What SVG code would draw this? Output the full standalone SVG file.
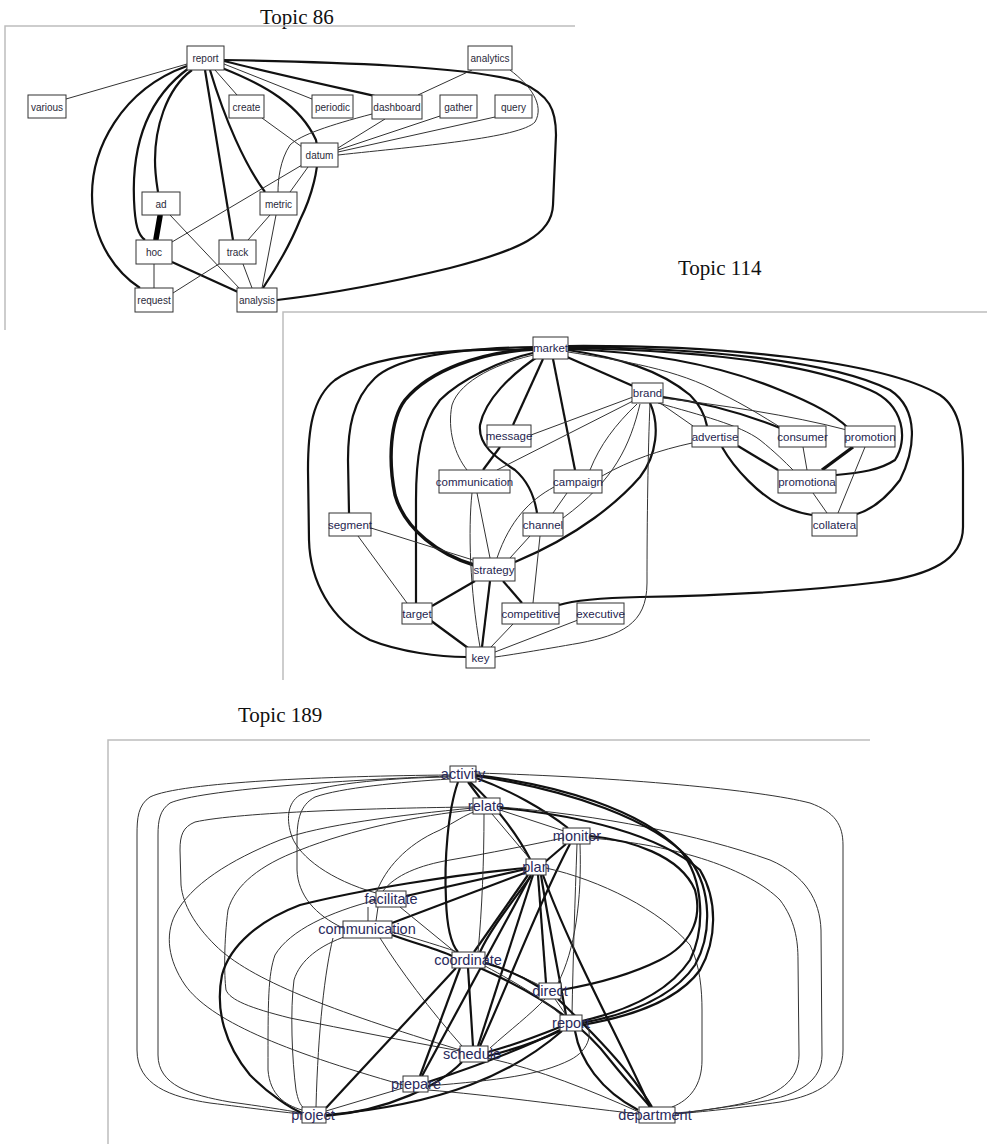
<svg xmlns="http://www.w3.org/2000/svg" width="987" height="1144" viewBox="0 0 987 1144">
<style>
.bg{fill:#fff}
.frame{fill:none;stroke:#bdbdbd;stroke-width:1.5}
.title{font-family:"Liberation Serif",serif;font-size:21px;fill:#111}
.a{fill:none;stroke:#333;stroke-width:1}
.b{fill:none;stroke:#111;stroke-width:2.2}
.c{fill:none;stroke:#111;stroke-width:3.4}
.d{fill:none;stroke:#000;stroke-width:5.5;stroke-linecap:round}
.n rect{fill:#fff;stroke:#333;stroke-width:1}
.n86 text{font-family:"Liberation Sans",Arial,sans-serif;font-size:10px;fill:#2a2a3a;text-anchor:middle}
.n114 text{font-family:"Liberation Sans",Arial,sans-serif;font-size:11.5px;fill:#1f1f50;text-anchor:middle}
.n189 text{font-family:"Liberation Sans",Arial,sans-serif;font-size:14.5px;fill:#2a2a5c;text-anchor:middle}
</style>
<rect class="bg" x="0" y="0" width="987" height="1144"/>

<text class="title" x="260" y="24">Topic 86</text>
<text class="title" x="678" y="275">Topic 114</text>
<text class="title" x="238" y="722">Topic 189</text>
<path class="frame" d="M5,330 L5,26 L575,26"/>
<path class="frame" d="M283,680 L283,312 L987,312"/>
<path class="frame" d="M108,1144 L108,740 L870,740"/>

<g id="edges86">
<path class="a" d="M187,64 L66,99"/>
<path class="b" d="M187,66 C120,90 92,150 92,195 C92,245 120,275 140,288"/>
<path class="b" d="M189,68 C145,100 132,150 134,200 C135,225 138,235 145,240"/>
<path class="b" d="M192,70 C165,90 155,130 155,160 C155,175 157,185 158,192"/>
<path class="b" d="M205,70 L233,240"/>
<path class="a" d="M215,70 L237,95"/>
<path class="b" d="M210,70 C225,120 245,165 265,192"/>
<path class="b" d="M222,68 C265,85 300,105 316,140 C322,165 310,200 300,220 C290,245 275,270 263,288"/>
<path class="a" d="M224,64 L312,99"/>
<path class="b" d="M224,61 C280,75 340,88 375,96"/>
<path class="b" d="M224,60 C330,62 470,66 520,82 C550,95 556,110 556,135 L553,205 C552,235 520,250 450,268 C380,285 320,295 277,300"/>
<path class="a" d="M472,70 L418,95"/>
<path class="a" d="M510,70 C530,85 545,105 535,122 C520,138 420,146 338,155"/>
<path class="a" d="M495,117 L338,152"/>
<path class="a" d="M440,116 L338,150"/>
<path class="a" d="M385,119 L338,148"/>
<path class="a" d="M372,114 C330,125 300,135 290,145 C280,160 278,180 278,192"/>
<path class="a" d="M262,118 L302,147"/>
<path class="a" d="M302,165 L172,242"/>
<path class="a" d="M308,167 L290,192"/>
<path class="a" d="M170,215 L240,289"/>
<path class="d" d="M160,216 L156,239"/>
<path class="b" d="M172,262 L238,292"/>
<path class="a" d="M154,264 L154,288"/>
<path class="a" d="M222,262 L173,293"/>
<path class="a" d="M270,215 L248,240"/>
<path class="a" d="M243,264 L252,288"/>
<path class="a" d="M276,215 L262,288"/>
</g>

<g id="n86-report" class="n n86"><rect x="187" y="46" width="37" height="24"/><text x="205.5" y="62">report</text></g>
<g id="n86-various" class="n n86"><rect x="28" y="95" width="38" height="23"/><text x="47" y="110.5">various</text></g>
<g id="n86-create" class="n n86"><rect x="229" y="95" width="35" height="23"/><text x="246.5" y="110.5">create</text></g>
<g id="n86-periodic" class="n n86"><rect x="312" y="95" width="41" height="23"/><text x="332.5" y="110.5">periodic</text></g>
<g id="n86-dashboard" class="n n86"><rect x="372" y="95" width="50" height="24"/><text x="397" y="110.5">dashboard</text></g>
<g id="n86-gather" class="n n86"><rect x="440" y="95" width="37" height="23"/><text x="458.5" y="110.5">gather</text></g>
<g id="n86-query" class="n n86"><rect x="495" y="95" width="37" height="23"/><text x="513.5" y="110.5">query</text></g>
<g id="n86-analytics" class="n n86"><rect x="468" y="46" width="44" height="24"/><text x="490" y="62">analytics</text></g>
<g id="n86-datum" class="n n86"><rect x="301" y="143" width="37" height="24"/><text x="319.5" y="159">datum</text></g>
<g id="n86-ad" class="n n86"><rect x="142" y="192" width="38" height="23"/><text x="161" y="207.5">ad</text></g>
<g id="n86-metric" class="n n86"><rect x="260" y="192" width="37" height="23"/><text x="278.5" y="207.5">metric</text></g>
<g id="n86-hoc" class="n n86"><rect x="136" y="240" width="36" height="24"/><text x="154" y="256">hoc</text></g>
<g id="n86-track" class="n n86"><rect x="219" y="240" width="37" height="24"/><text x="237.5" y="256">track</text></g>
<g id="n86-request" class="n n86"><rect x="135" y="288" width="38" height="24"/><text x="154" y="304">request</text></g>
<g id="n86-analysis" class="n n86"><rect x="237" y="288" width="40" height="24"/><text x="257" y="304">analysis</text></g>

<g id="edges114">
<path class="b" d="M533,350 C450,348 370,355 335,380 C312,398 308,430 308,470 L309,540 C310,580 330,620 370,640 C400,652 440,657 466,657"/>
<path class="b" d="M535,347 C470,348 400,355 375,378 C352,400 348,430 348,460 L349,513"/>
<path class="c" d="M535,349 C480,352 430,370 405,400 C390,420 388,460 395,495 C405,530 440,555 474,565"/>
<path class="b" d="M537,352 C500,360 460,380 440,400 C420,425 416,460 416,500 L416,603"/>
<path class="b" d="M540,355 C510,375 485,400 480,425 C478,445 495,457 515,470 C530,483 535,500 537,513"/>
<path class="a" d="M538,354 C500,362 460,380 452,405 C447,430 455,455 467,470"/>
<path class="b" d="M543,359 L513,425"/>
<path class="b" d="M553,359 L575,470"/>
<path class="b" d="M567,357 L633,386"/>
<path class="b" d="M650,403 C660,425 657,455 640,477 C620,500 580,535 515,562"/>
<path class="b" d="M568,350 C620,358 660,370 690,395 C700,405 705,415 707,426"/>
<path class="a" d="M568,352 C620,360 680,370 720,393 C745,405 765,418 780,427"/>
<path class="b" d="M568,349 C650,352 720,365 780,390 C810,402 835,415 847,427"/>
<path class="b" d="M568,348 C680,350 800,360 870,390 C905,405 908,440 895,460 C880,470 860,473 836,475"/>
<path class="b" d="M568,347 C700,348 830,360 890,390 C920,410 915,450 900,480 C885,500 870,510 857,514"/>
<path class="b" d="M568,346 C720,345 880,360 940,395 C962,410 963,440 963,470 L963,527 C963,560 930,575 880,582 C790,593 700,596 640,597 C600,598 575,600 559,605"/>
<path class="b" d="M663,397 C700,402 740,412 780,428"/>
<path class="a" d="M663,398 C720,405 790,415 847,430"/>
<path class="a" d="M660,403 L693,426"/>
<path class="a" d="M658,403 C700,415 740,425 760,440 C775,452 785,462 793,470"/>
<path class="a" d="M650,403 C648,450 647,520 647,583 C647,625 620,635 580,643 C540,650 510,655 495,657"/>
<path class="a" d="M633,397 L531,435"/>
<path class="a" d="M633,401 L497,470"/>
<path class="a" d="M637,404 C615,425 600,445 590,470"/>
<path class="a" d="M640,404 C630,445 615,480 563,518"/>
<path class="a" d="M692,443 C660,450 630,460 602,476"/>
<path class="b" d="M738,446 L778,470"/>
<path class="b" d="M722,447 C735,470 760,495 780,505 C795,512 805,514 812,515"/>
<path class="a" d="M803,447 L807,470"/>
<path class="c" d="M853,447 L822,470"/>
<path class="a" d="M865,447 L838,513"/>
<path class="a" d="M813,493 L827,513"/>
<path class="a" d="M477,493 L490,558"/>
<path class="a" d="M472,493 C468,530 470,590 480,647"/>
<path class="b" d="M500,447 L483,470"/>
<path class="a" d="M567,493 L553,513"/>
<path class="a" d="M554,487 C530,500 510,520 497,558"/>
<path class="a" d="M530,536 L510,558"/>
<path class="a" d="M540,536 L533,603"/>
<path class="a" d="M371,528 L473,560"/>
<path class="a" d="M358,536 L407,603"/>
<path class="b" d="M475,581 L432,606"/>
<path class="b" d="M490,581 L482,647"/>
<path class="b" d="M503,581 L522,603"/>
<path class="b" d="M430,620 L468,648"/>
<path class="a" d="M513,624 L491,647"/>
<path class="a" d="M578,620 L495,652"/>
</g>

<g id="n114-market" class="n n114"><rect x="533" y="337" width="35" height="22"/><text x="550.5" y="352">market</text></g>
<g id="n114-brand" class="n n114"><rect x="632" y="383" width="31" height="20"/><text x="647.5" y="397">brand</text></g>
<g id="n114-message" class="n n114"><rect x="487" y="425" width="44" height="22"/><text x="509" y="440">message</text></g>
<g id="n114-advertise" class="n n114"><rect x="692" y="426" width="46" height="21"/><text x="715" y="440.5">advertise</text></g>
<g id="n114-consumer" class="n n114"><rect x="779" y="426" width="47" height="21"/><text x="802.5" y="440.5">consumer</text></g>
<g id="n114-promotion" class="n n114"><rect x="845" y="426" width="50" height="21"/><text x="870" y="440.5">promotion</text></g>
<g id="n114-communication" class="n n114"><rect x="439" y="470" width="71" height="23"/><text x="474.5" y="485.5">communication</text></g>
<g id="n114-campaign" class="n n114"><rect x="554" y="470" width="48" height="23"/><text x="578" y="485.5">campaign</text></g>
<g id="n114-promotiona" class="n n114"><rect x="778" y="470" width="58" height="23"/><text x="807" y="485.5">promotiona</text></g>
<g id="n114-segment" class="n n114"><rect x="329" y="513" width="42" height="23"/><text x="350" y="528.5">segment</text></g>
<g id="n114-channel" class="n n114"><rect x="523" y="513" width="40" height="23"/><text x="543" y="528.5">channel</text></g>
<g id="n114-collatera" class="n n114"><rect x="812" y="513" width="45" height="23"/><text x="834.5" y="528.5">collatera</text></g>
<g id="n114-strategy" class="n n114"><rect x="473" y="558" width="42" height="23"/><text x="494" y="573.5">strategy</text></g>
<g id="n114-target" class="n n114"><rect x="402" y="603" width="30" height="21"/><text x="417" y="617.5">target</text></g>
<g id="n114-competitive" class="n n114"><rect x="502" y="603" width="57" height="21"/><text x="530.5" y="617.5">competitive</text></g>
<g id="n114-executive" class="n n114"><rect x="577" y="603" width="47" height="21"/><text x="600.5" y="617.5">executive</text></g>
<g id="n114-key" class="n n114"><rect x="466" y="647" width="29" height="21"/><text x="480.5" y="661.5">key</text></g>

<g id="edges189">
<path class="a" d="M450,775 C330,776 180,782 150,797 C138,805 137,818 137,835 L137,1050 C137,1085 170,1097 210,1103 C250,1108 280,1112 302,1114"/>
<path class="a" d="M450,776 C340,780 200,790 170,803 C160,810 158,820 158,835 L158,1055 C158,1085 190,1095 230,1102 C260,1106 285,1110 302,1113"/>
<path class="a" d="M473,807 C380,808 240,812 195,822 C183,827 180,835 180,850 L181,885 C183,905 195,925 215,945 C250,980 330,1010 460,1050"/>
<path class="a" d="M473,808 C400,815 320,825 280,840 C230,860 190,885 175,915 C165,935 168,960 185,985 C210,1020 280,1050 403,1085"/>
<path class="a" d="M473,810 C420,815 350,830 300,850 C260,865 235,885 228,910 C224,940 224,975 226,990 C230,1000 250,1008 290,1018 C350,1030 400,1040 460,1051"/>
<path class="a" d="M450,777 C380,778 320,785 300,795 C287,803 286,820 292,837 C300,857 330,880 376,893"/>
<path class="a" d="M450,779 C400,782 340,788 315,797 C300,805 297,820 297,840 L297,870 C298,895 315,915 343,928"/>
<path class="b" d="M526,868 C450,875 360,890 300,905 C260,920 230,945 222,975 C215,1010 225,1045 250,1075 C270,1095 290,1108 302,1113"/>
<path class="b" d="M526,869 L406,896"/>
<path class="b" d="M527,872 L392,923"/>
<path class="a" d="M368,907 L368,921"/>
<path class="a" d="M378,907 L376,921"/>
<path class="a" d="M377,891 C385,870 405,845 440,830 C455,822 465,815 474,812"/>
<path class="a" d="M383,891 C395,875 420,865 450,860 C490,853 530,845 563,838"/>
<path class="a" d="M333,938 C325,970 318,1030 316,1107"/>
<path class="a" d="M347,936 C320,945 300,960 294,980 C290,1010 292,1060 296,1090 C298,1100 300,1105 304,1108"/>
<path class="a" d="M376,900 C330,912 290,930 275,955 C268,975 268,1000 268,1070 C270,1095 285,1105 302,1110"/>
<path class="b" d="M392,935 C420,945 440,950 452,956"/>
<path class="a" d="M380,938 C400,970 430,1010 462,1046"/>
<path class="a" d="M392,932 C440,945 500,965 539,985"/>
<path class="a" d="M400,907 L455,952"/>
<path class="b" d="M326,1108 L456,968"/>
<path class="b" d="M420,1076 L460,968"/>
<path class="b" d="M468,968 L473,1046"/>
<path class="b" d="M533,875 L478,1046"/>
<path class="b" d="M531,875 L422,1076"/>
<path class="b" d="M528,875 L474,952"/>
<path class="b" d="M531,876 C510,905 490,930 480,952"/>
<path class="b" d="M538,875 L546,983"/>
<path class="b" d="M541,875 C548,920 558,970 566,1015"/>
<path class="b" d="M543,875 C570,950 620,1040 650,1107"/>
<path class="b" d="M470,782 C490,800 515,830 530,859"/>
<path class="b" d="M476,778 C510,790 545,810 568,828"/>
<path class="b" d="M468,782 L480,798"/>
<path class="b" d="M458,782 C448,810 444,860 446,900 C447,930 452,945 458,952"/>
<path class="a" d="M484,814 C484,860 482,910 478,952"/>
<path class="a" d="M500,810 L564,831"/>
<path class="a" d="M492,814 L530,859"/>
<path class="b" d="M566,844 L545,862"/>
<path class="b" d="M570,844 C540,900 510,980 480,1046"/>
<path class="a" d="M577,844 C575,900 573,960 572,1015"/>
<path class="a" d="M580,844 C582,900 575,950 558,983"/>
<path class="a" d="M476,773 C620,777 760,790 810,803 C835,812 843,825 843,845 L843,1050 C843,1080 820,1095 780,1102 C740,1108 700,1112 675,1114"/>
<path class="a" d="M500,807 C600,815 700,835 770,860 C805,875 820,900 821,930 L822,1055 C822,1080 800,1095 760,1102 C720,1108 690,1112 675,1114"/>
<path class="a" d="M590,838 C680,845 750,870 780,900 C795,920 798,940 798,960 L799,1055 C799,1080 780,1095 740,1104 C710,1110 690,1112 675,1113"/>
<path class="a" d="M546,868 C600,880 660,910 690,945 C700,965 702,990 702,1010 L702,1060 C702,1085 690,1100 672,1107"/>
<path class="b" d="M476,775 C560,785 640,810 680,850 C705,880 705,930 690,960 C670,990 630,1010 582,1021"/>
<path class="b" d="M476,776 C570,790 655,820 690,860 C712,890 712,935 695,965 C675,995 635,1013 582,1023"/>
<path class="b" d="M500,808 C580,815 660,835 700,870 C718,900 717,940 700,970 C680,998 640,1015 582,1025"/>
<path class="b" d="M590,836 C630,840 680,855 695,890 C703,920 690,945 660,960 C630,975 590,985 561,990"/>
<path class="b" d="M485,963 C510,970 525,978 539,987"/>
<path class="b" d="M480,968 C530,990 580,1020 610,1060 C630,1085 645,1100 650,1107"/>
<path class="a" d="M555,999 L566,1015"/>
<path class="b" d="M558,999 C590,1030 630,1070 652,1107"/>
<path class="b" d="M575,1031 C580,1060 600,1090 638,1110"/>
<path class="b" d="M488,1052 C515,1045 540,1035 560,1027"/>
<path class="b" d="M488,1056 C520,1048 545,1038 562,1030"/>
<path class="b" d="M428,1082 C480,1065 530,1045 560,1030"/>
<path class="b" d="M326,1115 C380,1110 430,1100 470,1085 C510,1070 540,1050 562,1031"/>
<path class="b" d="M326,1116 C390,1110 440,1085 462,1062"/>
<path class="a" d="M490,1048 C510,1030 530,1015 545,999"/>
<path class="a" d="M488,1058 C540,1070 590,1090 639,1112"/>
<path class="a" d="M428,1090 C490,1095 560,1105 639,1114"/>
<path class="a" d="M326,1111 L403,1088"/>
<path class="a" d="M582,1020 C595,1030 590,1050 570,1060 C540,1075 500,1080 428,1086"/>
<path class="a" d="M485,966 C520,985 545,1000 562,1016"/>
</g>

<g id="n189-activity" class="n n189"><rect x="450" y="766" width="26" height="16"/><text x="463" y="779">activity</text></g>
<g id="n189-relate" class="n n189"><rect x="473" y="798" width="27" height="16"/><text x="486" y="811">relate</text></g>
<g id="n189-monitor" class="n n189"><rect x="563" y="828" width="27" height="16"/><text x="577" y="841">monitor</text></g>
<g id="n189-plan" class="n n189"><rect x="526" y="859" width="20" height="16"/><text x="536" y="872">plan</text></g>
<g id="n189-facilitate" class="n n189"><rect x="376" y="891" width="30" height="16"/><text x="391" y="904">facilitate</text></g>
<g id="n189-communication" class="n n189"><rect x="343" y="921" width="49" height="17"/><text x="367" y="934">communication</text></g>
<g id="n189-coordinate" class="n n189"><rect x="452" y="952" width="33" height="16"/><text x="468" y="965">coordinate</text></g>
<g id="n189-direct" class="n n189"><rect x="539" y="983" width="22" height="16"/><text x="550" y="996">direct</text></g>
<g id="n189-report" class="n n189"><rect x="560" y="1015" width="22" height="16"/><text x="571" y="1028">report</text></g>
<g id="n189-schedule" class="n n189"><rect x="460" y="1046" width="28" height="16"/><text x="472" y="1059">schedule</text></g>
<g id="n189-prepare" class="n n189"><rect x="403" y="1076" width="25" height="16"/><text x="416" y="1089">prepare</text></g>
<g id="n189-project" class="n n189"><rect x="302" y="1107" width="24" height="16"/><text x="313" y="1120">project</text></g>
<g id="n189-department" class="n n189"><rect x="639" y="1107" width="36" height="16"/><text x="655" y="1120">department</text></g>
</svg>
